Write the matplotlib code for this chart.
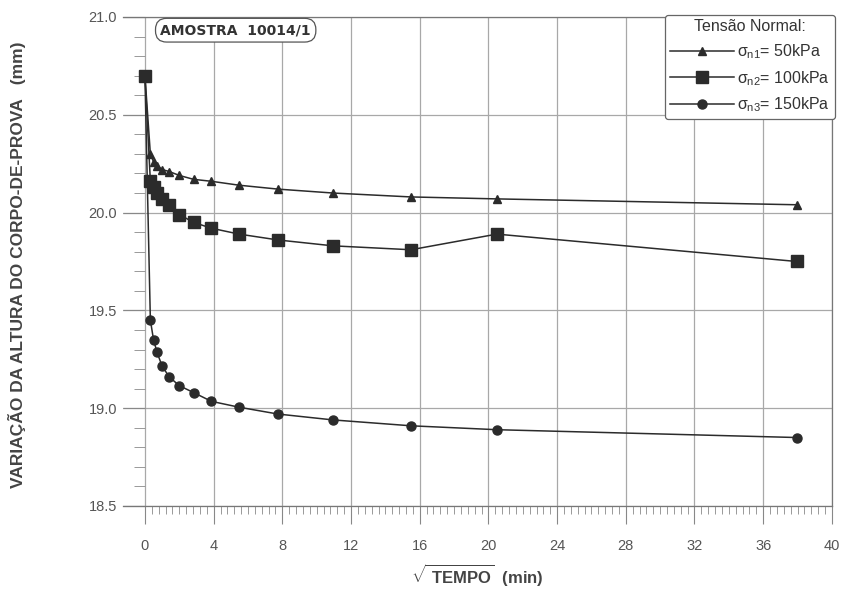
import matplotlib
matplotlib.use('Agg')
import numpy as np
import matplotlib.pyplot as plt
from matplotlib.ticker import MultipleLocator, FixedLocator, FormatStrFormatter

plt.rcParams['font.family'] = ['Liberation Sans', 'DejaVu Sans']
plt.rcParams['mathtext.fontset'] = 'custom'
plt.rcParams['mathtext.rm'] = 'Liberation Sans'
plt.rcParams['mathtext.it'] = 'Liberation Sans'
plt.rcParams['mathtext.bf'] = 'Liberation Sans:bold'

# raiz do tempo (min^0.5)
raiz_tempo = [0, 0.316, 0.5, 0.707, 1.0, 1.414, 2.0, 2.83, 3.87, 5.48,
              7.75, 10.95, 15.49, 20.49, 37.95]

# altura do corpo-de-prova (mm)
altura_50 = [20.70, 20.30, 20.26, 20.24, 20.22, 20.21, 20.19, 20.17, 20.16, 20.14,
             20.12, 20.10, 20.08, 20.07, 20.04]
altura_100 = [20.70, 20.16, 20.13, 20.10, 20.07, 20.04, 19.99, 19.95, 19.92, 19.89,
              19.86, 19.83, 19.81, 19.89, 19.75]
altura_150 = [20.70, 19.45, 19.35, 19.285, 19.215, 19.16, 19.115, 19.08, 19.035, 19.005,
              18.97, 18.94, 18.91, 18.89, 18.85]

rotulos = [r'$\sigma_{n1}$= 50kPa', r'$\sigma_{n2}$= 100kPa', r'$\sigma_{n3}$= 150kPa']

cor = '#2b2b2b'
cinza = '#555555'

fig = plt.figure(figsize=(8.48, 5.9), dpi=100)
ax = fig.add_axes([0.145, 0.1424, 0.836, 0.8288])

ax.plot(raiz_tempo, altura_50, '-^', color=cor, lw=1.1, ms=5.5, label=rotulos[0], zorder=3)
ax.plot(raiz_tempo, altura_150, '-o', color=cor, lw=1.1, ms=6.5, label=rotulos[2], zorder=3)
ax.plot(raiz_tempo, altura_100, '-s', color=cor, lw=1.1, ms=8, label=rotulos[1], zorder=4)

ax.set_xlim(-1.28, 40)
ax.set_ylim(18.5, 21.0)

ax.xaxis.set_major_locator(MultipleLocator(4))
ax.xaxis.set_minor_locator(FixedLocator(np.arange(0, 40.01, 0.4)))
ax.yaxis.set_major_locator(MultipleLocator(0.5))
ax.yaxis.set_minor_locator(MultipleLocator(0.1))
ax.yaxis.set_major_formatter(FormatStrFormatter('%.1f'))

ax.spines['left'].set_position(('data', 0))
ax.spines['left'].set_visible(False)
for s in ['top', 'right', 'bottom']:
    ax.spines[s].set_color('#777777')
    ax.spines[s].set_linewidth(0.9)

ax.tick_params(axis='y', which='major', direction='out', length=16, width=0.8,
               color='#888888', labelsize=10.5, labelcolor=cinza, pad=4)
ax.tick_params(axis='y', which='minor', direction='out', length=8, width=0.7, color='#999999')
ax.tick_params(axis='x', which='major', direction='out', length=13, width=0.8,
               color='#888888', labelsize=10.5, labelcolor=cinza, pad=11)
ax.tick_params(axis='x', which='minor', direction='out', length=6, width=0.7, color='#999999')

ax.grid(True, which='major', color='#a8a8a8', lw=0.9, zorder=0)

ax.set_xlabel(r'$\sqrt{\mathbf{\ TEMPO}}$  (min)', fontsize=12, fontweight='bold',
              color='#444444', labelpad=6)
ax.set_ylabel('VARIAÇÃO DA ALTURA DO CORPO-DE-PROVA   (mm)', fontsize=12.5,
              fontweight='bold', color='#444444')
ax.yaxis.set_label_coords(-0.137, 0.493)

ax.text(0.159, 0.973, 'AMOSTRA  10014/1', transform=ax.transAxes, ha='center', va='center',
        fontsize=10, fontweight='bold', color='#333333', family='DejaVu Sans',
        bbox=dict(boxstyle='round,pad=0.35,rounding_size=0.8', fc='white', ec='#555555', lw=0.9),
        zorder=5)

handles, labels = ax.get_legend_handles_labels()
ordem = [0, 2, 1]
leg = ax.legend([handles[i] for i in ordem], [labels[i] for i in ordem],
                title='Tensão Normal:', loc='upper right', bbox_to_anchor=(1.004, 1.005),
                borderaxespad=0, fontsize=11.5, title_fontsize=11.5, handlelength=4.0,
                handletextpad=0.2, labelspacing=0.5, borderpad=0.3, fancybox=True,
                framealpha=1, edgecolor='#666666')
leg.get_frame().set_linewidth(0.9)
for t in leg.get_texts():
    t.set_color('#333333')
leg.get_title().set_color('#333333')
leg.set_zorder(6)

fig.savefig('out.png', dpi=100, facecolor='white')
